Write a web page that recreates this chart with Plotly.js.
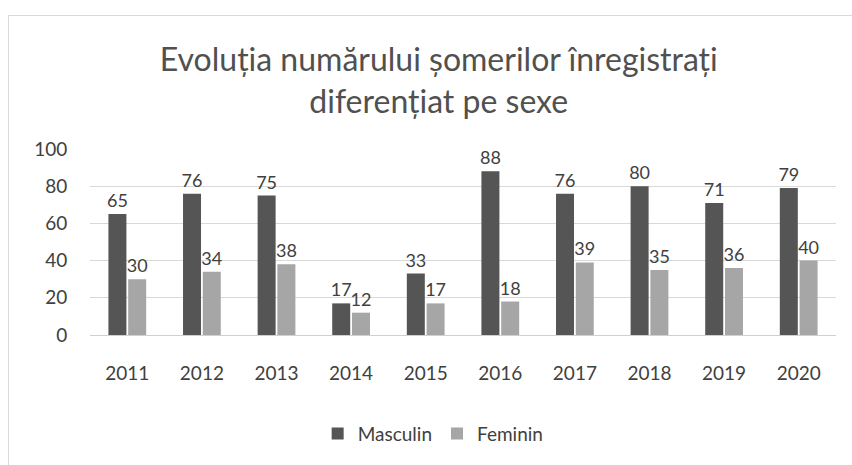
<!DOCTYPE html>
<html>
<head>
<meta charset="utf-8">
<script src="https://cdn.plot.ly/plotly-3.0.1.min.js"></script>
<style>
  html, body { margin: 0; padding: 0; background: #ffffff; }
  #wrap { position: relative; width: 852px; height: 465px; overflow: hidden; }
  #frame { position: absolute; left: 8px; top: 15px; width: 900px; height: 500px;
           border-top: 1px solid #d9d9d9; border-left: 1px solid #d9d9d9; }
  #chart { position: absolute; left: 0; top: 0; width: 852px; height: 465px; }
</style>
</head>
<body>
<div id="wrap">
  <div id="frame"></div>
  <div id="chart"></div>
</div>
<script>
const years = ['2011','2012','2013','2014','2015','2016','2017','2018','2019','2020'];
const masculin = [65, 76, 75, 17, 33, 88, 76, 80, 71, 79];
const feminin  = [30, 34, 38, 12, 17, 18, 39, 35, 36, 40];
const yTicks = [0, 20, 40, 60, 80, 100];

const FONT = 'Lato, "Open Sans", sans-serif';
const TXT = '#404040';

const data = [
  { type: 'bar', name: 'Masculin', x: years, y: masculin,
    marker: { color: '#555555' },
    text: masculin.map(String), textposition: 'outside', cliponaxis: false,
    constraintext: 'none',
    textfont: { family: FONT, size: 18, color: TXT } },
  { type: 'bar', name: 'Feminin', x: years, y: feminin,
    marker: { color: '#a6a6a6' },
    text: feminin.map(String), textposition: 'outside', cliponaxis: false,
    constraintext: 'none',
    textfont: { family: FONT, size: 18, color: TXT } }
];

const layout = {
  width: 852, height: 465,
  paper_bgcolor: 'rgba(0,0,0,0)', plot_bgcolor: 'rgba(0,0,0,0)',
  margin: { l: 90, r: 16, t: 149, b: 128 },
  font: { family: FONT, color: TXT },
  title: { text: 'Evoluția numărului șomerilor înregistrați<br>diferențiat pe sexe',
           font: { family: FONT, size: 32, color: '#505050' },
           x: 0.515, xanchor: 'center', y: 0.847, yanchor: 'middle' },
  barmode: 'group', bargap: 0.47, bargroupgap: 0.09,
  showlegend: true,
  legend: { orientation: 'h', x: 0.46, xanchor: 'center', y: -0.53, yanchor: 'middle',
            font: { family: FONT, size: 19, color: TXT } },
  xaxis: { type: 'category', tickvals: years, ticktext: years,
           showgrid: false, showline: false, zeroline: false,
           ticks: 'outside', ticklen: 21, tickcolor: 'rgba(0,0,0,0)',
           tickfont: { family: FONT, size: 19, color: TXT } },
  yaxis: { range: [0, 100], tickvals: yTicks, ticktext: yTicks.map(String),
           showgrid: true, gridcolor: '#d9d9d9', gridwidth: 1,
           zeroline: true, zerolinecolor: '#d0d0d0', showline: false,
           ticks: 'outside', ticklen: 18, tickcolor: 'rgba(0,0,0,0)',
           tickfont: { family: FONT, size: 19, color: TXT } }
};

Plotly.newPlot('chart', data, layout, { displayModeBar: false, staticPlot: true });
</script>
</body>
</html>
